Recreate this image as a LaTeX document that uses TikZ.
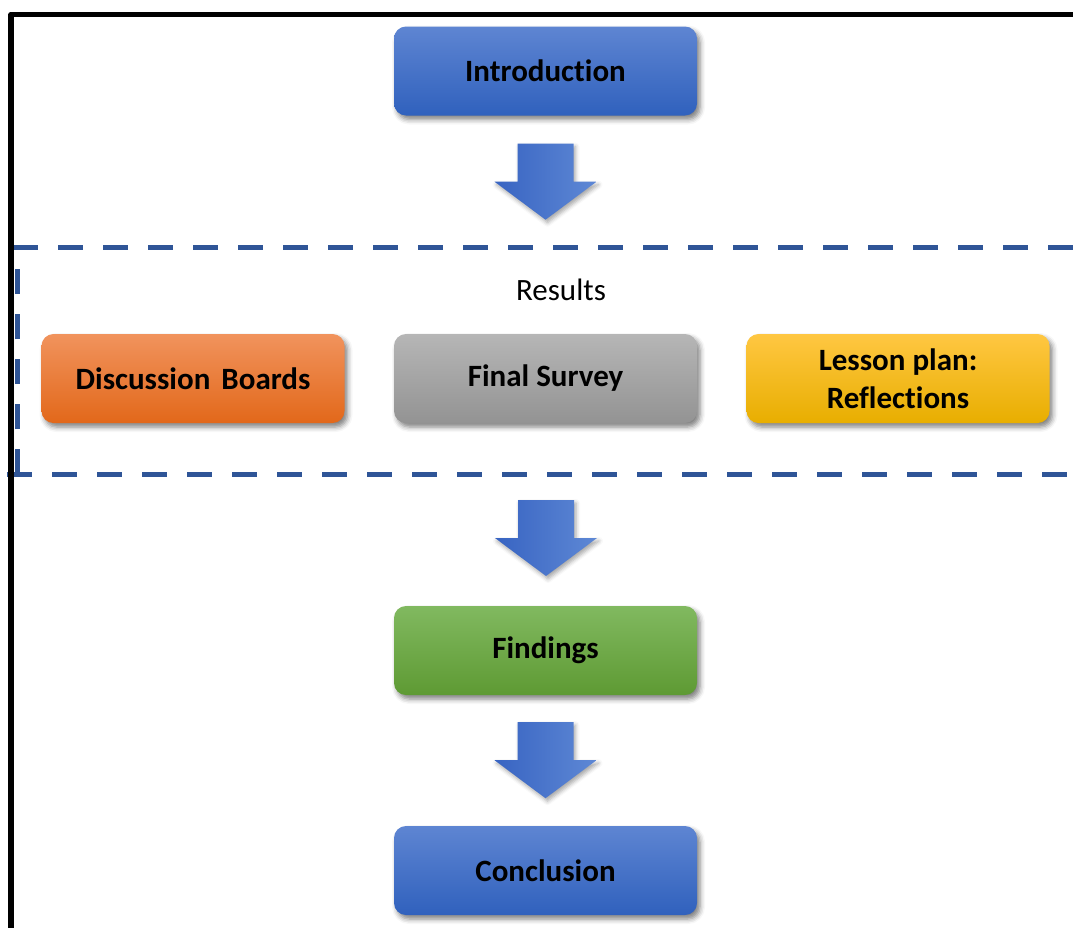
\documentclass[tikz,border=0pt]{standalone}
\usepackage{fontspec}
\setmainfont{Carlito}[Ligatures=NoCommon]
\usetikzlibrary{shadows.blur,calc}

\definecolor{dashblue}{RGB}{47,85,151}
\definecolor{blueA}{RGB}{94,133,210}
\definecolor{blueB}{RGB}{68,114,196}
\definecolor{blueC}{RGB}{48,97,189}
\definecolor{orangeA}{RGB}{241,147,93}
\definecolor{orangeB}{RGB}{243,125,46}
\definecolor{orangeC}{RGB}{226,104,26}
\definecolor{greyA}{RGB}{182,182,182}
\definecolor{greyB}{RGB}{165,165,165}
\definecolor{greyC}{RGB}{147,147,147}
\definecolor{yellowA}{RGB}{255,199,66}
\definecolor{yellowB}{RGB}{255,192,0}
\definecolor{yellowC}{RGB}{232,174,0}
\definecolor{greenA}{RGB}{129,185,96}
\definecolor{greenB}{RGB}{112,173,71}
\definecolor{greenC}{RGB}{94,154,51}
\definecolor{arrowL}{RGB}{56,100,194}
\definecolor{arrowR}{RGB}{94,136,213}

\tikzset{
  softshadow/.style={blur shadow={shadow xshift=3pt, shadow yshift=-4pt,
      shadow blur radius=5pt, shadow opacity=50}},
  box/.style={rectangle, rounded corners=12pt, minimum width=303pt,
      minimum height=89pt, inner sep=0pt, softshadow,
      font=\fontsize{31}{38}\selectfont\bfseries, text=black, align=center},
  bluefill/.style={top color=blueA, middle color=blueB, bottom color=blueC},
  orangefill/.style={top color=orangeA, middle color=orangeB, bottom color=orangeC},
  greyfill/.style={top color=greyA, middle color=greyB, bottom color=greyC},
  yellowfill/.style={top color=yellowA, middle color=yellowB, bottom color=yellowC},
  greenfill/.style={top color=greenA, middle color=greenB, bottom color=greenC},
  dashline/.style={draw=dashblue, line width=5pt, dash pattern=on 25pt off 20pt},
  frameline/.style={draw=black, line width=5.5pt, line join=round},
  % block arrow pointing down, its top edge centred on the pic origin
  downarrow/.pic={
    \path[left color=arrowL, right color=arrowR,
          blur shadow={shadow xshift=2pt, shadow yshift=-3pt,
          shadow blur radius=4pt, shadow opacity=35}]
      (-28,0) -- (28,0) -- (28,38) -- (51,38) -- (0,76) -- (-51,38)
      -- (-28,38) -- cycle;
  }
}

\begin{document}
\begin{tikzpicture}[x=1pt,y=-1pt]
\useasboundingbox (0,0) rectangle (1073,927);
\clip (0,0) rectangle (1073,927);

% dashed frame around the results
\draw[dashline] (13,247) -- (1100,247);
\draw[dashline] (7,474) -- (1100,474);
\draw[dashline] (17,474) -- (17,247);
\coordinate (resbot) at (546,474);

% outer frame
\draw[frameline] (11,960) -- (11,14.5) -- (1100,14.5);

% stages
\node[box, bluefill] (intro) at (545.5,71) {Introduction};
\node[font=\fontsize{31}{38}\selectfont] (restitle) at (561,290) {Results};
\node[box, orangefill] (disc) at (193,378.5) {Discussion\hspace{4pt} Boards};
\node[box, greyfill] (survey) at (545.5,378.5) {Final Survey};
\node[box, yellowfill] (lesson) at (898,378.5) {Lesson plan:\\Reflections};
\node[box, greenfill] (find) at (545.5,650.5) {Findings};
\node[box, bluefill] (concl) at (545.5,870.5) {Conclusion};

% block arrows between the stages
\pic at ($(intro.south)+(0,28)$) {downarrow};
\pic at ($(resbot)+(0,26)$) {downarrow};
\pic at ($(find.south)+(0,27)$) {downarrow};
\end{tikzpicture}
\end{document}
